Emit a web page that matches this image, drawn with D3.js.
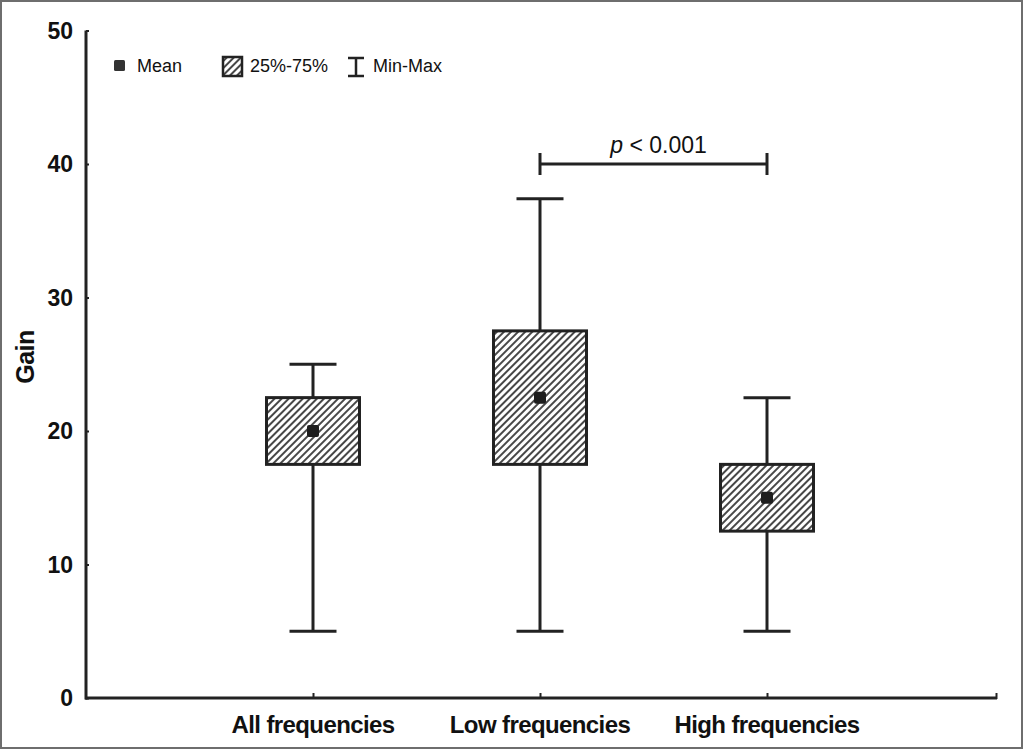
<!DOCTYPE html>
<html lang="en">
<head>
  <meta charset="UTF-8">
  <title>Gain by frequency</title>
  <script src="https://cdn.jsdelivr.net/npm/d3@7"></script>
  <style>
    html, body { margin: 0; padding: 0; background: #fff; }
    svg { display: block; font-family: "Liberation Sans", Arial, sans-serif; }
  </style>
</head>
<body>
<svg width="1023" height="750"></svg>
<script>
  // data
  var categories = ["All frequencies", "Low frequencies", "High frequencies"];
  var minVals  = [5, 5, 5];
  var q1Vals   = [17.5, 17.5, 12.5];
  var q3Vals   = [22.5, 27.5, 17.5];
  var maxVals  = [25, 37.4, 22.5];
  var meanVals = [20, 22.5, 15];
  var yTicks   = [0, 10, 20, 30, 40, 50];
  var pLabel   = "0.001";

  var svg = d3.select("svg"),
      ink = "#222";

  // frame
  svg.append("rect")
      .attr("x", 1).attr("y", 1)
      .attr("width", 1021).attr("height", 747)
      .attr("fill", "#fff")
      .attr("stroke", "#6e6e6e")
      .attr("stroke-width", 2);

  var x = d3.scalePoint().domain(categories).range([86, 994]).padding(1);
  var y = d3.scaleLinear().domain([0, 50]).range([698, 30.5]);

  var defs = svg.append("defs");
  var pat = defs.append("pattern")
      .attr("id", "hatch")
      .attr("patternUnits", "userSpaceOnUse")
      .attr("width", 5).attr("height", 5)
      .attr("patternTransform", "rotate(45)");
  pat.append("rect").attr("width", 5).attr("height", 5).attr("fill", "#fff");
  pat.append("line")
      .attr("x1", 1).attr("y1", 0).attr("x2", 1).attr("y2", 5)
      .attr("stroke", "#333").attr("stroke-width", 1.8);

  // y axis
  var yAxis = svg.append("g")
      .attr("transform", "translate(86,0)")
      .call(d3.axisRight(y).tickValues(yTicks).tickSize(3).tickFormat(""));
  yAxis.select(".domain").remove();
  yAxis.selectAll(".tick line").attr("stroke", ink).attr("stroke-width", 2);

  svg.append("line")
      .attr("x1", 86).attr("x2", 86)
      .attr("y1", y(50)).attr("y2", y(0) + 1.5)
      .attr("stroke", ink).attr("stroke-width", 3);

  svg.append("g").selectAll("text")
      .data(yTicks)
      .enter().append("text")
      .attr("x", 73)
      .attr("y", function (d) { return y(d); })
      .attr("dy", "0.36em")
      .attr("text-anchor", "end")
      .attr("font-size", 23)
      .attr("font-weight", "bold")
      .attr("fill", "#111")
      .text(function (d) { return d; });

  svg.append("text")
      .attr("transform", "translate(34,357) rotate(-90)")
      .attr("text-anchor", "middle")
      .attr("font-size", 25)
      .attr("font-weight", "bold")
      .attr("letter-spacing", -0.5)
      .attr("fill", "#111")
      .text("Gain");

  // x axis
  var xAxis = svg.append("g")
      .attr("transform", "translate(0," + y(0) + ")")
      .call(d3.axisTop(x).tickSize(5).tickFormat(""));
  xAxis.select(".domain").remove();
  xAxis.selectAll(".tick line").attr("stroke", ink).attr("stroke-width", 2);

  svg.append("line")
      .attr("x1", 85).attr("x2", 997)
      .attr("y1", y(0)).attr("y2", y(0))
      .attr("stroke", ink).attr("stroke-width", 3);
  svg.append("line")
      .attr("x1", 996.5).attr("x2", 996.5)
      .attr("y1", y(0) + 1).attr("y2", y(0) - 5)
      .attr("stroke", ink).attr("stroke-width", 2);

  svg.append("g").selectAll("text")
      .data(categories)
      .enter().append("text")
      .attr("x", function (d) { return x(d); })
      .attr("y", 733)
      .attr("text-anchor", "middle")
      .attr("font-size", 24)
      .attr("font-weight", "bold")
      .attr("letter-spacing", -0.6)
      .attr("fill", "#111")
      .text(function (d) { return d; });

  // boxes
  var boxW = 93, capW = 47;
  var boxes = svg.append("g").selectAll("g")
      .data(categories)
      .enter().append("g");

  boxes.append("line")
      .attr("x1", function (d) { return x(d); })
      .attr("x2", function (d) { return x(d); })
      .attr("y1", function (d, i) { return y(minVals[i]); })
      .attr("y2", function (d, i) { return y(maxVals[i]); })
      .attr("stroke", ink).attr("stroke-width", 3);

  boxes.append("line")
      .attr("x1", function (d) { return x(d) - capW / 2; })
      .attr("x2", function (d) { return x(d) + capW / 2; })
      .attr("y1", function (d, i) { return y(maxVals[i]); })
      .attr("y2", function (d, i) { return y(maxVals[i]); })
      .attr("stroke", ink).attr("stroke-width", 3);

  boxes.append("line")
      .attr("x1", function (d) { return x(d) - capW / 2; })
      .attr("x2", function (d) { return x(d) + capW / 2; })
      .attr("y1", function (d, i) { return y(minVals[i]); })
      .attr("y2", function (d, i) { return y(minVals[i]); })
      .attr("stroke", ink).attr("stroke-width", 3);

  boxes.append("rect")
      .attr("x", function (d) { return x(d) - boxW / 2; })
      .attr("y", function (d, i) { return y(q3Vals[i]); })
      .attr("width", boxW)
      .attr("height", function (d, i) { return y(q1Vals[i]) - y(q3Vals[i]); })
      .attr("fill", "url(#hatch)")
      .attr("stroke", ink).attr("stroke-width", 3);

  boxes.append("rect")
      .attr("x", function (d) { return x(d) - 6; })
      .attr("y", function (d, i) { return y(meanVals[i]) - 6; })
      .attr("width", 12).attr("height", 12)
      .attr("rx", 2)
      .attr("fill", "#1e1e1e");

  // significance bracket
  var bx1 = x(categories[1]), bx2 = x(categories[2]), by = y(40);
  svg.append("line")
      .attr("x1", bx1).attr("x2", bx2).attr("y1", by).attr("y2", by)
      .attr("stroke", ink).attr("stroke-width", 3);
  [bx1, bx2].forEach(function (bx) {
    svg.append("line")
        .attr("x1", bx).attr("x2", bx).attr("y1", by - 11).attr("y2", by + 11)
        .attr("stroke", ink).attr("stroke-width", 3);
  });
  var pt = svg.append("text")
      .attr("x", (bx1 + bx2) / 2 + 5)
      .attr("y", 153)
      .attr("text-anchor", "middle")
      .attr("font-size", 23)
      .attr("fill", "#111");
  pt.append("tspan").attr("font-style", "italic").text("p");
  pt.append("tspan").text(" < " + pLabel);

  // legend
  var leg = svg.append("g").attr("font-size", 18).attr("fill", "#111");
  leg.append("rect")
      .attr("x", 114).attr("y", 60).attr("width", 11).attr("height", 11)
      .attr("rx", 1.5).attr("fill", "#333");
  leg.append("text").attr("x", 137).attr("y", 72).text("Mean");

  leg.append("rect")
      .attr("x", 223).attr("y", 57).attr("width", 19).attr("height", 19)
      .attr("fill", "url(#hatch)")
      .attr("stroke", ink).attr("stroke-width", 2.5);
  leg.append("text").attr("x", 250).attr("y", 72).text("25%-75%");

  leg.append("path")
      .attr("d", "M348,58H364M356,58V76M348,76H364")
      .attr("fill", "none")
      .attr("stroke", ink).attr("stroke-width", 2.5);
  leg.append("text").attr("x", 373).attr("y", 72).text("Min-Max");
</script>
</body>
</html>
